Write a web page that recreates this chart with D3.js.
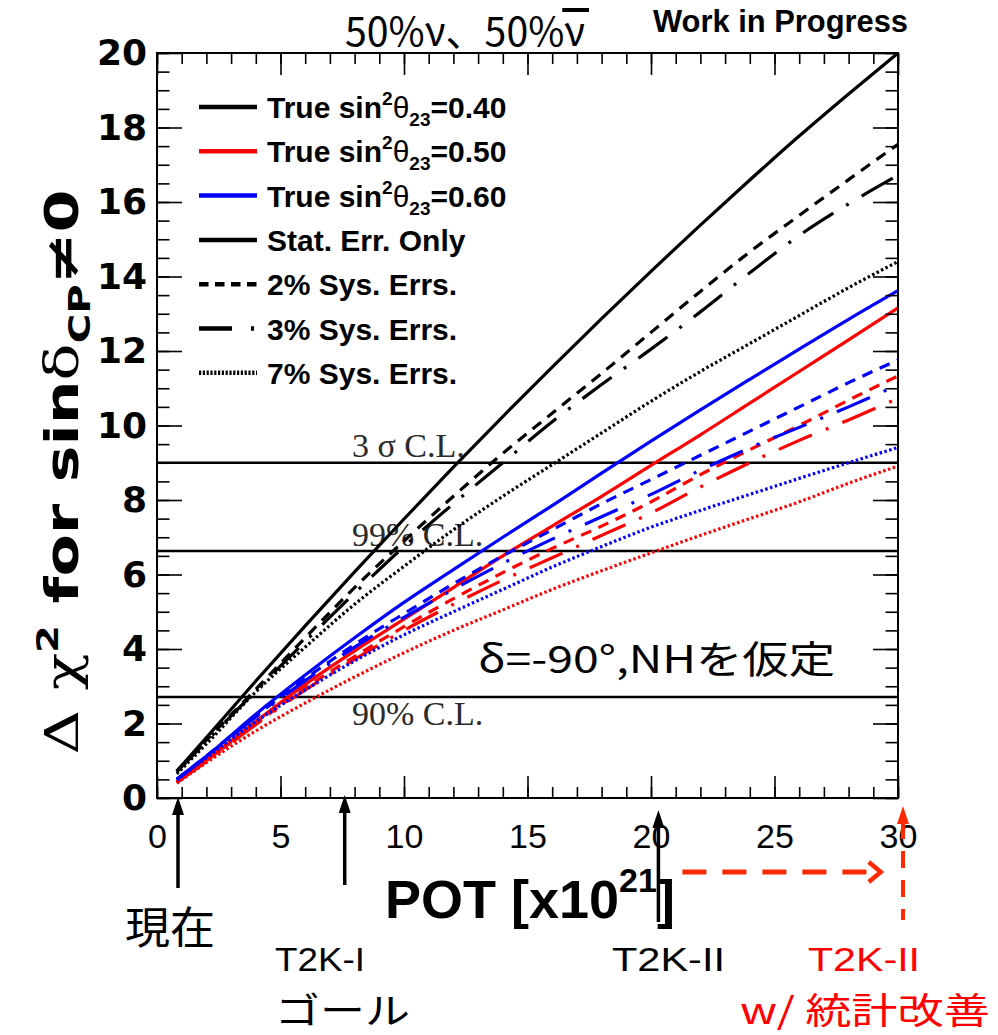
<!DOCTYPE html>
<html><head><meta charset="utf-8">
<script src="https://cdn.jsdelivr.net/npm/d3@7"></script>
<style>
html,body{margin:0;padding:0;background:#fff;}
svg{display:block;}
</style></head>
<body>
<svg id="chart" width="998" height="1035"></svg>
<script>
// ---------------- data ----------------
const potGrid = [0.8, 2, 4, 6, 8, 10, 12, 14, 16, 18, 20, 22, 24, 26, 28, 30];
// True sin^2(theta23) = 0.40 (black)
const th040_stat = [0.72,1.62,3.14,4.62,6.07,7.49,8.88,10.24,11.57,12.87,14.14,15.38,16.59,17.77,18.9,20.0];
const th040_sys2 = [0.72,1.55,2.92,4.3,5.65,6.9,8.1,9.25,10.33,11.4,12.5,13.6,14.66,15.64,16.6,17.55];
const th040_sys3 = [0.7,1.52,2.88,4.2,5.5,6.75,7.9,9.0,10.1,11.1,12.05,13.05,14.1,15.1,15.95,16.72];
const th040_sys7 = [0.65,1.45,2.85,4.05,5.2,6.22,7.2,8.1,8.95,9.8,10.65,11.45,12.2,12.95,13.7,14.4];
// True sin^2(theta23) = 0.50 (red)
const th050_stat = [0.42,1.02,2.05,3.05,3.95,4.8,5.65,6.5,7.3,8.1,8.93,9.75,10.6,11.45,12.3,13.16];
const th050_sys2 = [0.42,1.0,2.0,2.95,3.8,4.6,5.35,6.05,6.7,7.3,7.95,8.68,9.35,10.0,10.68,11.33];
const th050_sys3 = [0.42,0.98,1.97,2.9,3.72,4.5,5.2,5.85,6.45,7.05,7.65,8.35,9.0,9.6,10.15,10.73];
const th050_sys7 = [0.4,0.95,1.8,2.55,3.25,3.9,4.5,5.05,5.6,6.1,6.58,7.05,7.5,7.95,8.45,8.91];
// True sin^2(theta23) = 0.60 (blue)
const th060_stat = [0.5,1.12,2.25,3.3,4.3,5.25,6.13,7.0,7.85,8.72,9.58,10.42,11.24,12.05,12.85,13.62];
const th060_sys2 = [0.5,1.13,2.2,3.2,4.12,4.95,5.75,6.5,7.2,7.9,8.55,9.2,9.85,10.5,11.15,11.76];
const th060_sys3 = [0.5,1.12,2.17,3.15,4.05,4.85,5.6,6.3,6.95,7.55,8.15,8.8,9.4,9.95,10.5,11.09];
const th060_sys7 = [0.48,1.08,2.05,2.9,3.68,4.38,5.0,5.6,6.2,6.75,7.27,7.72,8.15,8.58,9.0,9.41];

const thetaValues = ["0.40", "0.50", "0.60"];
const thetaColors = ["#000000", "#ff0000", "#0000ff"];
const sysLabels = ["Stat. Err. Only", "2% Sys. Errs.", "3% Sys. Errs.", "7% Sys. Errs."];
const clValues = [9, 6.63, 2.71];
const clLabels = ["3 \u03c3 C.L.", "99% C.L.", "90% C.L."];
const xMajorTicks = [0, 5, 10, 15, 20, 25, 30];
const yMajorTicks = [0, 2, 4, 6, 8, 10, 12, 14, 16, 18, 20];
const milestonePOT = [0.85, 7.6, 20.3];
const milestoneLabels = [["現在"], ["T2K-I", "ゴール"], ["T2K-II"]];
const improvedLabel = ["T2K-II", "w/ 統計改善"];

const seriesTable = [
  {theta: 0, sys: 0, v: th040_stat}, {theta: 0, sys: 1, v: th040_sys2},
  {theta: 0, sys: 2, v: th040_sys3}, {theta: 0, sys: 3, v: th040_sys7},
  {theta: 1, sys: 0, v: th050_stat}, {theta: 1, sys: 1, v: th050_sys2},
  {theta: 1, sys: 2, v: th050_sys3}, {theta: 1, sys: 3, v: th050_sys7},
  {theta: 2, sys: 0, v: th060_stat}, {theta: 2, sys: 1, v: th060_sys2},
  {theta: 2, sys: 2, v: th060_sys3}, {theta: 2, sys: 3, v: th060_sys7}
];

// ---------------- layout ----------------
const L = 157, R = 898, T = 53, B = 798;
const svg = d3.select("#chart");
svg.append("rect").attr("width", 998).attr("height", 1035).attr("fill", "#fff");

const x = d3.scaleLinear().domain([0, 30]).range([L, R]);
const y = d3.scaleLinear().domain([0, 20]).range([B, T]);

const dashCurve = [null, "11,8", "36,15,3,15", "2.5,2.5"];
const dashLegend = [null, "9.5,6.5", "33,19,3,40", "2.2,1.6"];

// CL lines
const clG = svg.append("g");
clValues.forEach((v, i) => {
  clG.append("line").attr("x1", L).attr("x2", R).attr("y1", y(v)).attr("y2", y(v))
    .attr("stroke", "#000").attr("stroke-width", 2.5);
});
const clText = svg.append("g").attr("font-family", "'Liberation Serif', 'Times New Roman', serif")
  .attr("font-size", 34).attr("fill", "#2a2a2a");
clText.append("text").attr("x", 352).attr("y", y(clValues[0]) - 6).text(clLabels[0]);
clText.append("text").attr("x", 352).attr("y", y(clValues[1]) - 5).text(clLabels[1]);
clText.append("text").attr("x", 352).attr("y", y(clValues[2]) + 28).text(clLabels[2]);

// curves
const line = d3.line().x((d, i) => x(potGrid[i])).y(d => y(d)).curve(d3.curveMonotoneX);
const curveG = svg.append("g").attr("fill", "none");
seriesTable.forEach(s => {
  curveG.append("path").attr("d", line(s.v))
    .attr("stroke", thetaColors[s.theta]).attr("stroke-width", 3.2)
    .attr("stroke-dasharray", dashCurve[s.sys]);
});

// axes: frame + ticks inside
const minorX = d3.range(0, 31, 1);
const minorY = d3.range(0, 20.01, 0.5);
function tickStyle(g) { g.selectAll("line").attr("stroke", "#000").attr("stroke-width", 1.6); g.select(".domain").remove(); }

svg.append("g").attr("transform", `translate(0,${B})`)
  .call(d3.axisBottom(x).tickValues(minorX).tickSizeInner(-11).tickSizeOuter(0).tickFormat(""))
  .call(tickStyle);
svg.append("g").attr("transform", `translate(0,${T})`)
  .call(d3.axisTop(x).tickValues(minorX).tickSizeInner(-11).tickSizeOuter(0).tickFormat(""))
  .call(tickStyle);
svg.append("g").attr("transform", `translate(0,${T})`)
  .call(d3.axisTop(x).tickValues(xMajorTicks).tickSizeInner(-22).tickSizeOuter(0).tickFormat(""))
  .call(tickStyle);
const xAx = svg.append("g").attr("transform", `translate(0,${B})`)
  .call(d3.axisBottom(x).tickValues(xMajorTicks).tickSizeInner(-22).tickSizeOuter(0).tickPadding(26).tickFormat(d3.format("d")))
  .call(tickStyle);
xAx.selectAll("text").attr("font-family", "'Liberation Sans', Arial, sans-serif").attr("font-size", 34).attr("fill", "#000");

svg.append("g").attr("transform", `translate(${L},0)`)
  .call(d3.axisLeft(y).tickValues(minorY).tickSizeInner(-12.5).tickSizeOuter(0).tickFormat(""))
  .call(tickStyle);
svg.append("g").attr("transform", `translate(${R},0)`)
  .call(d3.axisRight(y).tickValues(minorY).tickSizeInner(-12.5).tickSizeOuter(0).tickFormat(""))
  .call(tickStyle);
svg.append("g").attr("transform", `translate(${R},0)`)
  .call(d3.axisRight(y).tickValues(yMajorTicks).tickSizeInner(-25).tickSizeOuter(0).tickFormat(""))
  .call(tickStyle);
const yAx = svg.append("g").attr("transform", `translate(${L},0)`)
  .call(d3.axisLeft(y).tickValues(yMajorTicks).tickSizeInner(-25).tickSizeOuter(0).tickPadding(10).tickFormat(d3.format("d")))
  .call(tickStyle);
yAx.selectAll("text").attr("font-family", "'DejaVu Sans', sans-serif").attr("font-weight", "bold")
  .attr("font-size", 36).attr("fill", "#000");

svg.append("rect").attr("x", L).attr("y", T).attr("width", R - L).attr("height", B - T)
  .attr("fill", "none").attr("stroke", "#000").attr("stroke-width", 2);

// legend
const lg = svg.append("g").attr("font-family", "'Liberation Sans', Arial, sans-serif")
  .attr("font-weight", "bold").attr("font-size", 30).attr("fill", "#000");
const rowY = i => 107 + i * 44.3;
thetaValues.forEach((tv, i) => {
  lg.append("line").attr("x1", 199).attr("x2", 257).attr("y1", rowY(i)).attr("y2", rowY(i))
    .attr("stroke", thetaColors[i]).attr("stroke-width", 4.5);
  const t = lg.append("text").attr("x", 267).attr("y", rowY(i) + 11);
  t.append("tspan").text("True sin");
  t.append("tspan").attr("font-size", 19).attr("dy", -13).text("2");
  t.append("tspan").attr("font-weight", "normal").attr("dy", 13).text("\u03b8");
  t.append("tspan").attr("font-size", 19).attr("dy", 8).text("23");
  t.append("tspan").attr("dy", -8).text("=" + tv);
});
sysLabels.forEach((s, j) => {
  const i = j + 3;
  lg.append("line").attr("x1", 199).attr("x2", j === 2 ? 256 : 257).attr("y1", rowY(i)).attr("y2", rowY(i))
    .attr("stroke", "#000").attr("stroke-width", 4.5).attr("stroke-dasharray", dashLegend[j]);
  lg.append("text").attr("x", 267).attr("y", rowY(i) + 11).text(s);
});

// y title
const yt = svg.append("text").attr("transform", "translate(78,472) rotate(-90)")
  .attr("text-anchor", "middle").attr("font-family", "'DejaVu Sans', sans-serif")
  .attr("font-weight", "bold").attr("font-size", 46).attr("fill", "#000")
  .attr("textLength", 565).attr("lengthAdjust", "spacingAndGlyphs");
yt.append("tspan").attr("font-weight", "normal").attr("font-family", "'DejaVu Serif', serif").text("\u0394 \u03c7");
yt.append("tspan").attr("font-size", 30).attr("dy", -20).text("2");
yt.append("tspan").attr("dy", 20).text(" for sin");
yt.append("tspan").attr("font-weight", "normal").attr("font-family", "'DejaVu Serif', serif").text("\u03b4");
yt.append("tspan").attr("font-size", 30).attr("dy", 12).text("CP");
yt.append("tspan").attr("dy", -12).text("\u22600");

// x title
const xt = svg.append("text").attr("x", 385).attr("y", 918)
  .attr("font-family", "'Liberation Sans', Arial, sans-serif").attr("font-weight", "bold")
  .attr("font-size", 54).attr("fill", "#000");
xt.append("tspan").text("POT [x10");
xt.append("tspan").attr("font-size", 34).attr("dy", -26).text("21");
xt.append("tspan").attr("dy", 26).text("]");

// top texts
svg.append("text").attr("x", 653).attr("y", 32)
  .attr("font-family", "'Liberation Sans', Arial, sans-serif").attr("font-weight", "bold")
  .attr("font-size", 31).attr("fill", "#000")
  .attr("textLength", 255).attr("lengthAdjust", "spacingAndGlyphs").text("Work in Progress");
const tt = svg.append("text").attr("x", 345).attr("y", 46)
  .attr("font-family", "'Noto Sans CJK JP', sans-serif").attr("font-size", 40).attr("fill", "#000")
  .attr("textLength", 240).attr("lengthAdjust", "spacingAndGlyphs")
  .text("50%\u03bd\u300150%\u03bd");
{
  const n = tt.text().length;
  const ext = tt.node().getExtentOfChar(n - 1);
  svg.append("rect").attr("x", ext.x - 2).attr("y", 8).attr("width", ext.width + 6).attr("height", 4).attr("fill", "#000");
}

// annotation
svg.append("text").attr("x", 478).attr("y", 673)
  .attr("font-family", "'Noto Sans CJK JP', sans-serif").attr("font-size", 38).attr("fill", "#000")
  .attr("textLength", 357).attr("lengthAdjust", "spacingAndGlyphs")
  .text("\u03b4=-90\u00b0,NHを仮定");

// milestone arrows
const arrowTop = [797, 795, 810];
const arrowBot = [888, 885, 922];
const ann = svg.append("g");
milestonePOT.forEach((p, i) => {
  const xx = x(p);
  ann.append("line").attr("x1", xx).attr("x2", xx).attr("y1", arrowTop[i] + 12).attr("y2", arrowBot[i])
    .attr("stroke", "#000").attr("stroke-width", 3.5);
  ann.append("path").attr("d", `M${xx},${arrowTop[i]} L${xx - 6},${arrowTop[i] + 18} L${xx + 6},${arrowTop[i] + 18} Z`).attr("fill", "#000");
});
const jp = "'Noto Sans CJK JP', sans-serif";
const lat = "'Liberation Sans', Arial, sans-serif";
ann.append("text").attr("x", 125).attr("y", 944).attr("font-family", jp).attr("font-size", 44)
  .attr("textLength", 90).attr("lengthAdjust", "spacingAndGlyphs").text(milestoneLabels[0][0]);
ann.append("text").attr("x", 275).attr("y", 971).attr("font-family", lat).attr("font-size", 33)
  .attr("textLength", 90).attr("lengthAdjust", "spacingAndGlyphs").text(milestoneLabels[1][0]);
ann.append("text").attr("x", 275).attr("y", 1024).attr("font-family", jp).attr("font-size", 36)
  .attr("textLength", 135).attr("lengthAdjust", "spacingAndGlyphs").text(milestoneLabels[1][1]);
ann.append("text").attr("x", 612).attr("y", 971).attr("font-family", lat).attr("font-size", 33)
  .attr("textLength", 113).attr("lengthAdjust", "spacingAndGlyphs").text(milestoneLabels[2][0]);
ann.append("text").attr("x", 808).attr("y", 971).attr("font-family", lat).attr("font-size", 33).attr("fill", "#ff0000")
  .attr("textLength", 112).attr("lengthAdjust", "spacingAndGlyphs").text(improvedLabel[0]);
ann.append("text").attr("x", 740).attr("y", 1024).attr("font-family", jp).attr("font-size", 36).attr("fill", "#ff0000")
  .attr("textLength", 250).attr("lengthAdjust", "spacingAndGlyphs").text(improvedLabel[1]);

// red dashed arrows (improvement)
const red = "#ff2a00";
const xr = x(30) + 5;
ann.append("line").attr("x1", xr).attr("x2", xr).attr("y1", 822).attr("y2", 920)
  .attr("stroke", red).attr("stroke-width", 4).attr("stroke-dasharray", "17,12");
ann.append("path").attr("d", `M${xr},806 L${xr - 6},824 L${xr + 6},824 Z`).attr("fill", red);
const xh0 = x(20.3) + 24, xh1 = x(29.3);
ann.append("line").attr("x1", xh0).attr("x2", xh1 - 6).attr("y1", 872).attr("y2", 872)
  .attr("stroke", red).attr("stroke-width", 5).attr("stroke-dasharray", "24,16");
ann.append("path").attr("d", `M${xh1 - 12},862 L${xh1},872 L${xh1 - 12},882`).attr("fill", "none")
  .attr("stroke", red).attr("stroke-width", 4.5);
</script>
</body></html>
